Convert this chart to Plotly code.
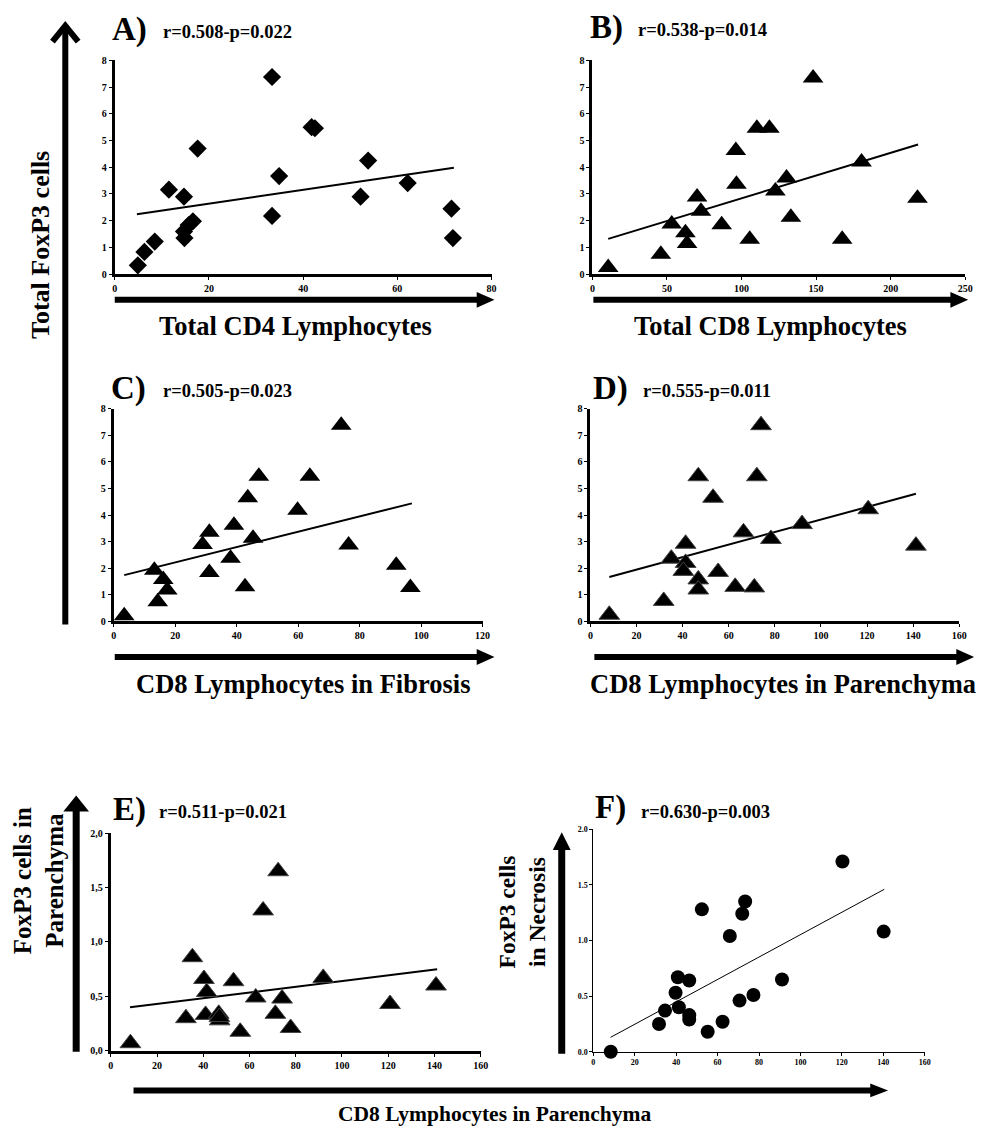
import plotly.graph_objects as go

W, H = 991, 1133
FONT = "Liberation Serif"

# ---------------- data ----------------
# A) Total CD4 lymphocytes vs total FoxP3 cells
a_x = [4.9, 6.3, 8.5, 11.5, 14.7, 14.8, 14.7, 15.7, 16.6, 17.6, 33.4, 33.4, 34.9, 41.8, 42.5, 52.2, 53.8, 62.2, 71.5, 71.8]
a_y = [0.33, 0.83, 1.22, 3.16, 2.90, 1.35, 1.60, 1.84, 1.98, 4.70, 7.38, 2.18, 3.67, 5.50, 5.46, 2.90, 4.25, 3.41, 2.45, 1.35]
a_fit_x = [4.7, 72.0]
a_fit_y = [2.24, 3.98]

# B) Total CD8 lymphocytes vs total FoxP3 cells
b_x = [10.6, 45.9, 53.2, 62.4, 63.5, 70.2, 72.8, 86.7, 96.2, 96.6, 105.5, 110.3, 118.7, 122.7, 130.2, 133.1, 148.0, 167.5, 180.5, 218.0]
b_y = [0.25, 0.74, 1.88, 1.55, 1.15, 2.89, 2.35, 1.85, 4.63, 3.36, 1.31, 5.46, 5.46, 3.11, 3.60, 2.13, 7.34, 1.31, 4.20, 2.84]
b_fit_x = [10.6, 218.4]
b_fit_y = [1.32, 4.85]

# C) CD8 lymphocytes in fibrosis vs total FoxP3 cells
c_x = [3.4, 13.2, 14.3, 16.1, 17.4, 28.9, 31.1, 31.1, 38.0, 39.1, 42.7, 43.6, 45.3, 47.2, 59.8, 63.8, 74.0, 76.4, 91.9, 96.5]
c_y = [0.21, 1.92, 0.74, 1.58, 1.18, 2.89, 3.35, 1.84, 2.38, 3.62, 1.30, 4.65, 3.13, 5.46, 4.18, 5.46, 7.38, 2.87, 2.11, 1.28]
c_fit_x = [3.4, 97.0]
c_fit_y = [1.74, 4.44]

# D) CD8 lymphocytes in parenchyma vs total FoxP3 cells
d_x = [8.2, 31.8, 35.1, 41.3, 41.3, 40.3, 46.8, 46.8, 46.8, 53.2, 55.4, 62.8, 66.4, 71.1, 72.2, 74.0, 78.3, 91.8, 120.5, 141.2]
d_y = [0.25, 0.77, 2.36, 2.92, 2.20, 1.90, 1.58, 1.20, 5.46, 4.65, 1.86, 1.30, 3.35, 1.28, 5.46, 7.38, 3.10, 3.66, 4.22, 2.85]
d_fit_x = [8.2, 141.2]
d_fit_y = [1.67, 4.80]

# E) CD8 lymphocytes in parenchyma vs FoxP3 cells in parenchyma
e_x = [8.5, 32.5, 35.3, 40.3, 41.5, 41.0, 46.7, 47.1, 47.0, 53.1, 56.0, 62.7, 65.9, 71.2, 72.4, 74.1, 77.8, 91.9, 120.8, 140.7]
e_y = [0.07, 0.30, 0.86, 0.66, 0.54, 0.33, 0.34, 0.28, 0.31, 0.64, 0.175, 0.49, 1.29, 0.34, 1.65, 0.48, 0.21, 0.67, 0.43, 0.60]
e_fit_x = [8.3, 141.2]
e_fit_y = [0.40, 0.75]

# F) CD8 lymphocytes in parenchyma vs FoxP3 cells in necrosis
f_x = [8.4, 31.7, 34.6, 39.7, 40.8, 41.3, 46.3, 46.3, 46.3, 52.4, 55.2, 62.4, 65.9, 70.6, 71.9, 73.3, 77.3, 91.1, 120.3, 140.2]
f_y = [0.00, 0.25, 0.37, 0.53, 0.67, 0.40, 0.64, 0.33, 0.29, 1.28, 0.18, 0.27, 1.04, 0.46, 1.24, 1.35, 0.51, 0.65, 1.71, 1.08]
f_fit_x = [8.3, 140.5]
f_fit_y = [0.13, 1.46]

# tick labels
y8_ticks = [0, 1, 2, 3, 4, 5, 6, 7, 8]
e_ytick_vals = [0.0, 0.5, 1.0, 1.5, 2.0]
e_ytick_text = ["0,0", "0,5", "1,0", "1,5", "2,0"]
f_ytick_vals = [0.0, 0.5, 1.0, 1.5, 2.0]
f_ytick_text = ["0.0", "0.5", "1.0", "1.5", "2.0"]

panel_letters = ["A)", "B)", "C)", "D)", "E)", "F)"]
panel_stats = ["r=0.508-p=0.022", "r=0.538-p=0.014", "r=0.505-p=0.023",
               "r=0.555-p=0.011", "r=0.511-p=0.021", "r=0.630-p=0.003"]

# ---------------- layout helpers ----------------
def X(px):
    return px / W


def Y(py):
    return 1 - py / H


# panel boxes in pixels: left, right, top, bottom
boxes = {
    1: (113, 494, 55, 271),
    2: (596, 973, 55, 271),
    3: (112, 485, 407, 622),
    4: (594, 967, 407, 622),
    5: (109, 483, 836, 1056),
    6: (597, 932, 832, 1057),
}

fig = go.Figure()

series = [
    (1, a_x, a_y, a_fit_x, a_fit_y, "diamond", 14, 2),
    (2, b_x, b_y, b_fit_x, b_fit_y, "triangle-up", 18, 2),
    (3, c_x, c_y, c_fit_x, c_fit_y, "triangle-up", 18, 2),
    (4, d_x, d_y, d_fit_x, d_fit_y, "triangle-up", 18, 2),
    (5, e_x, e_y, e_fit_x, e_fit_y, "triangle-up", 18, 2),
    (6, f_x, f_y, f_fit_x, f_fit_y, "circle", 14, 1),
]

for i, xs, ys, fx, fy, sym, sz, lw in series:
    suffix = "" if i == 1 else str(i)
    fig.add_trace(go.Scatter(
        x=fx, y=fy, mode="lines", line=dict(color="black", width=lw),
        xaxis="x" + suffix, yaxis="y" + suffix, showlegend=False, hoverinfo="skip"))
    marker_line = dict(color="#444444", width=1) if i in (4, 5) else dict(width=0)
    fig.add_trace(go.Scatter(
        x=xs, y=ys, mode="markers",
        marker=dict(symbol=sym, size=sz, color="black", line=marker_line),
        xaxis="x" + suffix, yaxis="y" + suffix, showlegend=False, cliponaxis=False))

tickfont = dict(family=FONT, size=10, color="black", weight="bold")
tickfont_f = dict(family=FONT, size=8, color="black", weight="bold")

x_ranges = {1: (0, 80, 20), 2: (0, 250, 50), 3: (0, 120, 20), 4: (0, 160, 20), 5: (0, 160, 20), 6: (0, 160, 20)}

layout = dict(
    width=W, height=H, autosize=False,
    margin=dict(l=0, r=0, t=0, b=0),
    paper_bgcolor="white", plot_bgcolor="white",
    showlegend=False,
)

for i, (l, r, t, b) in boxes.items():
    suffix = "" if i == 1 else str(i)
    lo, hi, dt = x_ranges[i]
    thin = (i == 6)
    xa = dict(
        domain=[X(l), X(r)], range=[lo, hi], anchor="y" + suffix,
        showgrid=False, zeroline=False, showline=True,
        linecolor="black", linewidth=1 if thin else 3,
        ticks="outside", ticklen=3, tickwidth=1, tickcolor="black",
        tickmode="linear", tick0=lo, dtick=dt,
        tickfont=tickfont_f if thin else tickfont, fixedrange=True,
    )
    ya = dict(
        domain=[Y(b), Y(t)], anchor="x" + suffix,
        showgrid=False, zeroline=False, showline=True,
        linecolor="black", linewidth=1 if thin else 3,
        ticks="outside", ticklen=3, tickwidth=1, tickcolor="black",
        tickfont=tickfont_f if thin else tickfont, fixedrange=True,
    )
    if i <= 4:
        ya.update(range=[0, 8], tickmode="array", tickvals=y8_ticks)
    elif i == 5:
        ya.update(range=[0, 2], tickmode="array", tickvals=e_ytick_vals, ticktext=e_ytick_text)
    else:
        ya.update(range=[0, 2], tickmode="array", tickvals=f_ytick_vals, ticktext=f_ytick_text)
    layout["xaxis" + suffix] = xa
    layout["yaxis" + suffix] = ya

fig.update_layout(**layout)

# ---------------- annotations ----------------
ann = []

def text(px, py, s, size, anchor="center", angle=0):
    ann.append(dict(
        x=X(px), y=Y(py), xref="paper", yref="paper", text=s, showarrow=False,
        xanchor=anchor, yanchor="middle", textangle=angle,
        font=dict(family=FONT, size=size, color="black", weight="bold")))

letter_pos = [(108, 24), (592, 22), (107, 387), (595, 387), (109, 812), (597, 810)]
stat_pos = [(160, 26), (640, 24), (160, 389), (645, 389), (156, 815), (643, 815)]
for k in range(6):
    text(letter_pos[k][0], letter_pos[k][1], panel_letters[k], 33, anchor="left")
    text(stat_pos[k][0], stat_pos[k][1], panel_stats[k], 18.5, anchor="left")

text(296, 323, "Total CD4 Lymphocytes", 26.5)
text(776, 323, "Total CD8 Lymphocytes", 26.5)
text(304, 685, "CD8 Lymphocytes in Fibrosis", 26.5)
text(789, 685, "CD8 Lymphocytes in Parenchyma", 26.5)
text(497, 1120, "CD8 Lymphocytes in Parenchyma", 21.5)
text(38, 242, "Total FoxP3 cells", 26, angle=-90)
text(36, 884, "FoxP3 cells in<br>Parenchyma", 25, angle=-90)
text(525, 916, "FoxP3 cells<br>in Necrosis", 23.5, angle=-90)

fig.update_layout(annotations=ann)

# ---------------- arrows (decoration shapes) ----------------
shapes = []

def hline(x0, x1, y, w):
    shapes.append(dict(type="line", xref="paper", yref="paper",
                       x0=X(x0), x1=X(x1), y0=Y(y), y1=Y(y),
                       line=dict(color="black", width=w)))

def vline(x, y0, y1, w):
    shapes.append(dict(type="line", xref="paper", yref="paper",
                       x0=X(x), x1=X(x), y0=Y(y0), y1=Y(y1),
                       line=dict(color="black", width=w)))

def path(points, closed=True, fill=True, w=0):
    d = "M " + " L ".join(f"{X(px):.5f},{Y(py):.5f}" for px, py in points)
    if closed:
        d += " Z"
    shapes.append(dict(type="path", xref="paper", yref="paper", path=d,
                       fillcolor="black" if fill else "rgba(0,0,0,0)",
                       line=dict(color="black", width=w)))

def right_arrow(x0, x1, y, w=6, hl=18, hh=8):
    hline(x0, x1 - hl + 2, y, w)
    path([(x1 - hl, y - hh), (x1, y), (x1 - hl, y + hh)])

def up_arrow(x, y0, y1, w=6, hl=16, hh=12):
    vline(x, y0, y1 + hl - 2, w)
    path([(x - hh, y1 + hl), (x, y1), (x + hh, y1 + hl)])

right_arrow(113, 497, 297)
right_arrow(597, 976, 297)
right_arrow(113, 497, 658)
right_arrow(598, 982, 658)
right_arrow(132, 895, 1096, w=6, hl=18, hh=7)

# big left arrow with chevron head
vline(63, 625, 20, 6)
path([(50, 36), (63, 20), (76, 36)], closed=False, fill=False, w=6)

up_arrow(74, 1057, 798, w=7, hl=16, hh=13)
up_arrow(565, 1059, 835, w=7, hl=18, hh=9)

fig.update_layout(shapes=shapes)

fig.write_html("out.html")
